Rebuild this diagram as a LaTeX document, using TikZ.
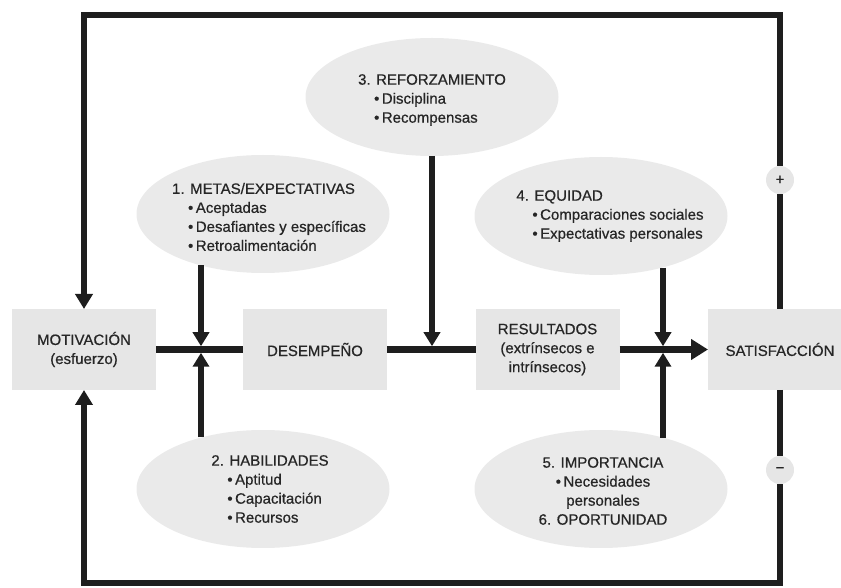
\documentclass[tikz,border=0pt]{standalone}
\usepackage{fontspec}
\setmainfont{Liberation Sans}[FakeBold=0.6]
\usetikzlibrary{arrows.meta,shapes.geometric}
\definecolor{boxgray}{HTML}{E6E6E6}
\definecolor{blobgray}{HTML}{EAEAEA}
\definecolor{ink}{HTML}{1E1E1E}
\definecolor{txt}{HTML}{262626}
\newcommand{\punto}{\hspace*{16pt}•\,}

\begin{document}
\begin{tikzpicture}[x=1pt, y=1pt,
    every node/.style={
        text=txt,
        font=\fontsize{15}{19}\selectfont\addfontfeatures{FakeBold=0.6}},
    box/.style={
        fill=boxgray,
        minimum width=144pt,
        minimum height=81pt,
        inner sep=0pt,
        outer sep=0pt,
        align=center},
    blob/.style={
        ellipse,
        fill=blobgray,
        minimum width=253pt,
        minimum height=118pt,
        inner sep=0pt,
        outer sep=0pt},
    blobtext/.style={inner sep=0pt, align=left},
    sign/.style={circle, fill=boxgray, minimum size=28pt, inner sep=0pt},
    main/.style={draw=ink, line width=6.5pt},
    back/.style={draw=ink, line width=6pt},
    feed/.style={back, -{Triangle[width=17pt,length=15pt]}},
    tie/.style={draw=ink, line width=5.5pt, shorten >=3.25pt,
        -{Triangle[width=16pt,length=14pt]}}]

    \useasboundingbox (0,0) rectangle (841,587);
    \clip (0,0) rectangle (841,587);

    \node[box] (mot) at (84,237.5) {MOTIVACIÓN\\(esfuerzo)};
    \node[box] (des) at (315,237.5) {DESEMPEÑO};
    \node[box] (res) at (547.5,237.5) {RESULTADOS\\(extrínsecos e\\intrínsecos)};
    \node[box] (sat) at (780,237.5) {SATISFACCIÓN};

    \node[blob] (e1) at (263,373) {};
    \node[blob] (e2) at (263,98) {};
    \node[blob] (e3) at (432,490) {};
    \node[blob] (e4) at (601,371) {};
    \node[blob] (e5) at (601,98) {};

    \node[blobtext] (t1) at ([shift={(6,-3)}]e1) {1. METAS/EXPECTATIVAS\\\punto Aceptadas\\\punto Desafiantes y específicas\\\punto Retroalimentación};
    \node[blobtext] (t2) at ([shift={(7,0)}]e2) {2. HABILIDADES\\\punto Aptitud\\\punto Capacitación\\\punto Recursos};
    \node[blobtext] (t3) at ([shift={(0,-3)}]e3) {3. REFORZAMIENTO\\\punto Disciplina\\\punto Recompensas};
    \node[blobtext] (t4) at ([shift={(9,0)}]e4) {4. EQUIDAD\\\punto Comparaciones sociales\\\punto Expectativas personales};
    \node[blobtext, align=center] (t5) at ([shift={(2,-2)}]e5) {5. IMPORTANCIA\\•\,Necesidades\\personales\\6. OPORTUNIDAD};

    \node[sign] (plus) at (780,407) {+};
    \node[sign] (minus) at (780,117) {−};

    \coordinate (j1) at (201,237.5);
    \coordinate (j3) at (432,237.5);
    \coordinate (j4) at (663,237.5);
    \coordinate (tr) at (780,572);
    \coordinate (br) at (780,4);

    \draw[main] (mot) -- (des);
    \draw[main] (des) -- (res);
    \draw[main, -{Triangle[width=20pt,length=17pt]}] (res) -- (sat);

    \draw[tie] (j1 |- e1.219.7) -- (j1);
    \draw[tie] (j1 |- e2.140.3) -- (j1);
    \draw[tie] (e3.south) -- (j3);
    \draw[tie] (j4 |- e4.320.3) -- (j4);
    \draw[tie] (j4 |- e5.39.7) -- (j4);

    \draw[back] (sat) -- (plus);
    \draw[back] (sat) -- (minus);
    \draw[feed] (plus) -- (tr) -| (mot);
    \draw[feed] (minus) -- (br) -| (mot);
\end{tikzpicture}
\end{document}
